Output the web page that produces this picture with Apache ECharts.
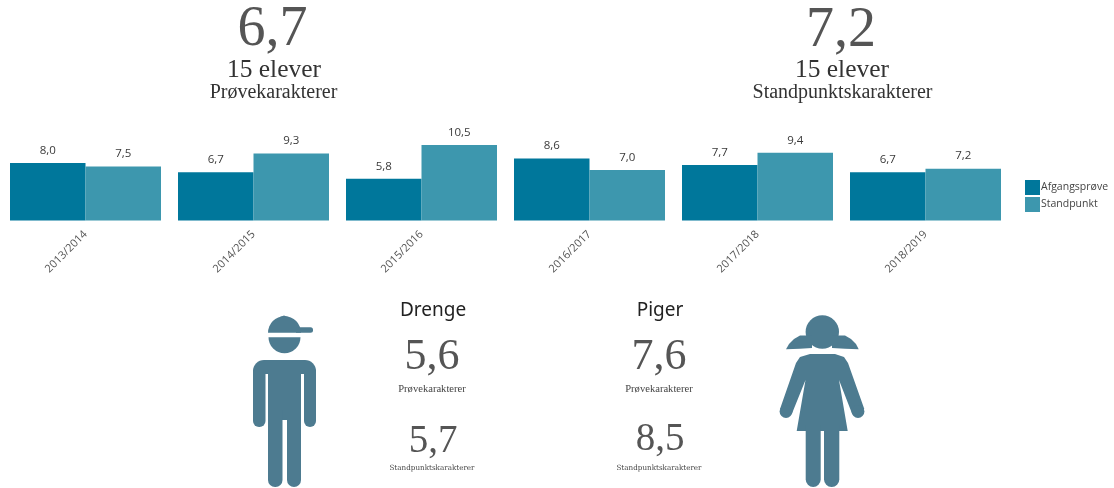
<!DOCTYPE html>
<html><head><meta charset="utf-8">
<script src="https://cdn.jsdelivr.net/npm/echarts@6/dist/echarts.min.js"></script>
<style>html,body{margin:0;padding:0;background:#fff}#c{width:1114px;height:488px}</style>
</head><body><div id="c"></div>
<script>
const categories = ['2013/2014','2014/2015','2015/2016','2016/2017','2017/2018','2018/2019'];
const afgangsprove = [8.0,6.7,5.8,8.6,7.7,6.7];
const standpunkt = [7.5,9.3,10.5,7.0,9.4,7.2];
const serif = '"Liberation Serif", serif';
const slab = '"DejaVu Serif", serif';
const sans = '"Open Sans", sans-serif';
const fmt = v => v.toFixed(1).replace('.', ',');
const ICON = '#4d7b90';

function t(text, x, y, size, color, family) {
  return {type:'text', x, y, silent:true, style:{text, fill:color, font:size+'px '+family, textAlign:'center', textVerticalAlign:'middle'}};
}
const rect = (x,y,width,height,r) => ({type:'rect',silent:true,shape:{x,y,width,height,r},style:{fill:ICON}});
const half = (cx,cy,r,startAngle,endAngle) => ({type:'sector',silent:true,shape:{cx,cy,r,r0:0,startAngle,endAngle},style:{fill:ICON}});
const poly = points => ({type:'polygon',silent:true,shape:{points},style:{fill:ICON}});
const dot = (cx,cy,r) => ({type:'circle',silent:true,shape:{cx,cy,r},style:{fill:ICON}});

const boy = [
  half(284.5,332.7,16.5,Math.PI,2*Math.PI),
  poly([[280,317],[284,315.5],[288,317]]),
  rect(296,327.2,17,5.5,[0,2.5,2.5,0]),
  half(284.5,337.3,16,0,Math.PI),
  rect(253,360,63,14,[11,11,0,0]),
  rect(253,370,12.5,57,[0,0,6,6]),
  rect(304,370,12,57,[0,0,6,6]),
  rect(268,370,33,50,0),
  rect(268,410,14.5,77,[0,0,7,7]),
  rect(287,410,14,77,[0,0,7,7])
];
const girl = [
  dot(822.3,332,16.7),
  poly([[812,335.5],[800,335.5],[794,339],[789,344],[786,349.3],[800,348.8],[812,348]]),
  poly([[832,335.5],[845,335.5],[851,339],[856,344],[858.7,349.3],[845,348.8],[832,348]]),
  poly([[810,354],[835,354],[844,357],[848,363],[864.3,409],[852,413.5],[839,380],[847.7,431],[796.7,431],[805.5,380],[792,413.5],[780,409],[796,363],[800,357]]),
  dot(786,411.5,6.4),
  dot(858,411.5,6.4),
  rect(805.7,425,15,62,[0,0,7.5,7.5]),
  rect(824,425,15.3,62,[0,0,7.5,7.5])
];

const chart = echarts.init(document.getElementById('c'), null, {renderer:'canvas'});
chart.setOption({
  animation:false,
  backgroundColor:'#fff',
  grid:{left:1.5,right:104.5,top:134.1,bottom:267.5,containLabel:false},
  legend:{
    orient:'vertical', left:1025, top:180, padding:0, itemWidth:15, itemHeight:15, itemGap:2,
    icon:'rect',
    textStyle:{color:'#444',fontSize:10.5,fontFamily:sans,padding:[2,0,0,-4]},
    data:['Afgangsprøve','Standpunkt'], selectedMode:false
  },
  xAxis:{type:'category',data:categories,
    axisLine:{show:false},axisTick:{show:false},
    axisLabel:{rotate:45,interval:0,color:'#555',fontSize:11,margin:12,fontFamily:sans}},
  yAxis:{type:'value',min:0,max:12,show:false,splitLine:{show:false}},
  series:[
    {name:'Afgangsprøve',type:'bar',data:afgangsprove,barWidth:75.5,barGap:'0%',
     itemStyle:{color:'#00779b'},
     label:{show:true,position:'top',distance:6.5,formatter:p=>fmt(p.value),color:'#3a3a3a',fontSize:11.5,fontFamily:sans}},
    {name:'Standpunkt',type:'bar',data:standpunkt,barWidth:75.5,
     itemStyle:{color:'#3d97ae'},
     label:{show:true,position:'top',distance:6.5,formatter:p=>fmt(p.value),color:'#3a3a3a',fontSize:11.5,fontFamily:sans}}
  ],
  graphic:{elements:[
    t('6,7',272.5,30,56,'#555',serif),
    t('15 elever',274,70,25.5,'#333',serif),
    t('Prøvekarakterer',273.5,93,20,'#333',serif),
    t('7,2',841,31,56,'#555',serif),
    t('15 elever',842,70,25.5,'#333',serif),
    t('Standpunktskarakterer',842.5,93,20,'#333',serif),
    t('Drenge',433,311,19,'#222','"Noto Sans",sans-serif'),
    t('5,6',432,357,44,'#555',serif),
    t('Prøvekarakterer',432,389,10.6,'#444',serif),
    t('5,7',433,442,39,'#555',serif),
    t('Standpunktskarakterer',432,468,7.2,'#444',slab),
    t('Piger',660,311,19,'#222','"Noto Sans",sans-serif'),
    t('7,6',659,357,44,'#555',serif),
    t('Prøvekarakterer',659,389,10.6,'#444',serif),
    t('8,5',660,440,39,'#555',serif),
    t('Standpunktskarakterer',659,468,7.2,'#444',slab)
  ].concat(boy, girl)}
});
</script></body></html>
